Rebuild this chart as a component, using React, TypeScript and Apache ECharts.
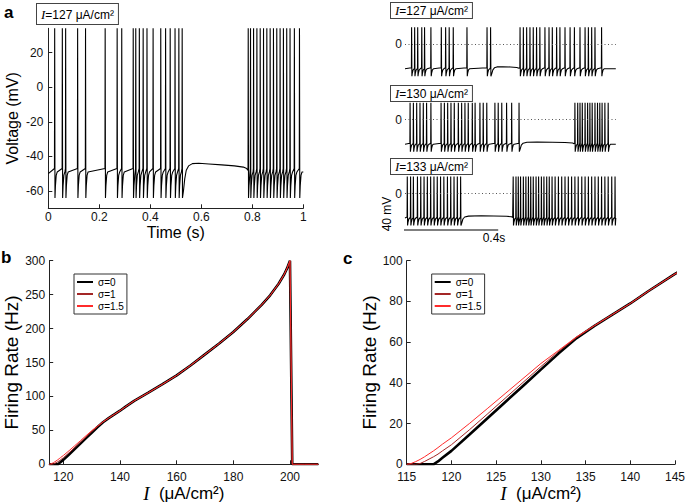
import React, { useEffect, useRef } from 'react';
import * as echarts from 'echarts';

const SANS = '"Liberation Sans", Arial, Helvetica, sans-serif';
const SERIF = '"Liberation Serif", "Times New Roman", serif';

// ---------- panel a (left): I = 127, voltage trace over 1 s ----------
const SPIKES_A = [
  0.025, 0.055, 0.068, 0.115, 0.146, 0.223, 0.27, 0.288, 0.333, 0.343, 0.357, 0.372, 0.387,
  0.411, 0.441, 0.46, 0.478, 0.497, 0.512, 0.525,
  0.784, 0.793, 0.805, 0.818, 0.831, 0.844, 0.857, 0.87, 0.883, 0.896, 0.909, 0.922, 0.935,
  0.948, 0.965, 0.985,
];
const PLATEAU_A = [
  [0.5275, -64], [0.53, -60], [0.535, -53], [0.541, -48], [0.55, -45.5], [0.565, -44.2],
  [0.59, -44], [0.63, -44.4], [0.68, -44.9], [0.73, -45.5], [0.765, -46.2], [0.778, -47], [0.782, -48],
];
const T_END_A = 1.0;
const V_START_A = -50;

// ---------- panel a (right): three traces ----------
const SPIKES_R1 = [
  0.026, 0.038, 0.05, 0.066, 0.077, 0.102, 0.143, 0.16, 0.174, 0.19, 0.244, 0.323, 0.337,
  0.453, 0.466, 0.479, 0.492, 0.505, 0.518, 0.531, 0.551, 0.567, 0.58, 0.597, 0.61, 0.63,
  0.65, 0.667, 0.689, 0.709, 0.722, 0.735, 0.748, 0.774,
];
const PLATEAU_R1 = [
  [0.3395, -64], [0.342, -58], [0.346, -51], [0.352, -47], [0.362, -45.2], [0.385, -44.8],
  [0.415, -45.3], [0.44, -46.3], [0.449, -48],
];
const SPIKES_R2 = [
  0.02, 0.033, 0.046, 0.059, 0.072, 0.085, 0.102, 0.142, 0.155, 0.168, 0.181, 0.194, 0.21,
  0.223, 0.236, 0.249, 0.265, 0.276, 0.295, 0.308, 0.322, 0.354, 0.367, 0.381, 0.4, 0.42, 0.449,
  0.669, 0.68, 0.689, 0.698, 0.709, 0.719, 0.728, 0.737, 0.748, 0.758, 0.767, 0.776, 0.787, 0.8,
];
const PLATEAU_R2 = [
  [0.4515, -64], [0.454, -58], [0.458, -51], [0.465, -47], [0.48, -45.2], [0.52, -44.6],
  [0.58, -45], [0.63, -45.6], [0.66, -46.6], [0.666, -48],
];
const SPIKES_R3 = [
  0.009, 0.022, 0.033, 0.049, 0.062, 0.075, 0.088, 0.101, 0.114, 0.127, 0.14, 0.153, 0.167,
  0.18, 0.193, 0.206, 0.219,
  0.426, 0.437, 0.446, 0.455, 0.466, 0.476, 0.486, 0.495, 0.505, 0.516, 0.526, 0.537, 0.547,
  0.558, 0.568, 0.579, 0.591, 0.604, 0.617, 0.63, 0.643, 0.656, 0.669, 0.682, 0.696, 0.709,
  0.722, 0.735, 0.748, 0.761, 0.774, 0.787, 0.8, 0.814, 0.827,
];
const PLATEAU_R3 = [
  [0.2215, -64], [0.224, -58], [0.228, -51], [0.235, -47], [0.25, -45.2], [0.3, -44.6],
  [0.35, -45], [0.4, -45.6], [0.42, -46.6], [0.424, -48],
];
const T_END_R = 0.83;
const ROW_LABELS = ['127', '130', '133'];

// spike waveform: [time offset (s), voltage (mV)]
const SPIKE_SHAPE = [[-0.0008, -47], [0, 34], [0.0012, -64], [0.003, -57], [0.006, -51], [0.01, -49]];
const BASELINE = -49;

// scale bar of the right traces: 0.4 s, 40 mV
const SCALE_BAR = { t0: -0.033, v0: -73, dt: 0.4, dv: 40 };

// ---------- panels b / c: firing rate vs current ----------
const I_VALUES = [
  115, 115.5, 116, 116.5, 117, 118, 118.5, 119, 120, 122, 124, 126, 128, 130, 132, 134, 136, 138,
  140, 142, 145, 150, 155, 160, 165, 170, 175, 180, 185, 190, 193, 196, 198, 199, 200, 200.8, 205, 210,
];
const RATE_S0 = [
  0, 0, 0, 0, 0, 0, 1.4, 3.2, 6.6, 14.5, 22.5, 30.5, 38.5, 46.5, 54.5, 62, 68, 73.5,
  79, 85, 93.5, 105.5, 118, 131, 146, 162, 178, 195, 214, 235, 249, 266, 280, 289, 300, 0, 0, 0,
];
const RATE_S1 = [
  0, 0, 0, 0.4, 1.4, 3.7, 5, 6.6, 9.6, 16.9, 24.6, 32.4, 40.2, 48, 55.5, 62.3, 68, 73.5,
  79, 85, 93.5, 105.5, 118, 131, 146, 162, 178, 195, 214, 235, 249, 266, 280, 289, 300, 0, 0, 0,
];
const RATE_S15 = [
  0, 0.4, 1.3, 2.4, 3.7, 6.6, 8.2, 9.9, 13, 20, 27.3, 34.7, 42.1, 49.5, 56, 62.6, 68.2, 73.6,
  79, 85, 93.5, 105.5, 118, 131, 146, 162, 178, 195, 214, 235, 249, 266, 280, 289, 300, 0, 0, 0,
];
const SIGMA_NAMES = ['σ=0', 'σ=1', 'σ=1.5'];
const SIGMA_COLORS = ['#000000', '#a32626', '#ff2b2b'];
const SIGMA_WIDTHS = [2.6, 1, 1];

const VOLT_TICKS = [-60, -40, -20, 0, 20];
const I_TICKS_B = [120, 140, 160, 180, 200];

function buildTrace(spikes: number[], plateau: number[][], tEnd: number, v0: number) {
  const events = spikes.map((t) => ({ t, p: false }));
  events.push({ t: plateau[0][0], p: true });
  events.sort((a, b) => a.t - b.t);
  const pts: number[][] = [[0, v0]];
  events.forEach((ev, i) => {
    const next = i + 1 < events.length ? events[i + 1] : null;
    const limit = next ? (next.p ? next.t : next.t + SPIKE_SHAPE[0][0]) : tEnd;
    if (ev.p) {
      plateau.forEach((p) => pts.push(p));
      return;
    }
    SPIKE_SHAPE.forEach(([dt, v]) => {
      const t = ev.t + dt;
      if (t < limit - 1e-6 && t > pts[pts.length - 1][0]) pts.push([t, v]);
    });
  });
  pts.push([tEnd, BASELINE]);
  return pts;
}

const AX = { color: '#222', width: 1 };
const LBL = { fontSize: 12, lineHeight: 12, color: '#111', fontFamily: SANS };

export default function App() {
  const ref = useRef<HTMLDivElement>(null);
  useEffect(() => {
    const chart = echarts.init(ref.current!, undefined, { renderer: 'svg', width: 685, height: 503 });

    const rowTops = [24.3, 99.7, 173.5];
    const rowTraces = [
      buildTrace(SPIKES_R1, PLATEAU_R1, T_END_R, BASELINE),
      buildTrace(SPIKES_R2, PLATEAU_R2, T_END_R, BASELINE),
      buildTrace(SPIKES_R3, PLATEAU_R3, T_END_R, BASELINE),
    ];
    const pairs = (ys: number[]) => I_VALUES.map((x, i) => [x, ys[i]]);
    const rates = [RATE_S0, RATE_S1, RATE_S15];

    const grids: any[] = [
      { left: 48.3, top: 28.3, width: 255, height: 180 },
      ...rowTops.map((t) => ({ left: 405, top: t, width: 210.8, height: 60 })),
      { left: 49.2, top: 260.7, width: 269.1, height: 203.6 },
      { left: 406.7, top: 260.7, width: 268.3, height: 203.6 },
    ].map((g) => ({ ...g, containLabel: false, outerBoundsMode: 'none' }));

    const iName = '{i|I}  (μA/cm²)';
    const iNameStyle = {
      fontSize: 17,
      lineHeight: 18,
      color: '#000',
      fontFamily: SANS,
      rich: { i: { fontFamily: SERIF, fontStyle: 'italic', fontSize: 19, lineHeight: 18, color: '#000' } },
    };
    const rateNameStyle = { fontSize: 19, color: '#000', fontFamily: SANS };

    const xAxes: any[] = [
      {
        gridIndex: 0, type: 'value', min: 0, max: 1, interval: 0.2,
        axisLine: { show: true, onZero: false, lineStyle: AX },
        axisTick: { show: true, inside: true, length: 4, lineStyle: AX },
        axisLabel: { ...LBL, margin: 3 },
        splitLine: { show: false },
        name: 'Time (s)', nameLocation: 'middle', nameGap: 14,
        nameTextStyle: { fontSize: 16, color: '#000', fontFamily: SANS },
      },
      ...[1, 2, 3].map((g) => ({ gridIndex: g, type: 'value', min: 0, max: T_END_R, show: false })),
      {
        gridIndex: 4, type: 'value', min: 115, max: 210,
        axisLine: { show: true, onZero: false, lineStyle: AX },
        axisTick: { show: true, inside: true, length: 4, lineStyle: AX, customValues: I_TICKS_B },
        axisLabel: { ...LBL, margin: 6.5, customValues: I_TICKS_B },
        splitLine: { show: false },
        name: iName, nameLocation: 'middle', nameGap: 18, nameTextStyle: iNameStyle,
      },
      {
        gridIndex: 5, type: 'value', min: 115, max: 145, interval: 5,
        axisLine: { show: true, onZero: false, lineStyle: AX },
        axisTick: { show: true, inside: true, length: 4, lineStyle: AX },
        axisLabel: { ...LBL, margin: 6.5 },
        splitLine: { show: false },
        name: iName, nameLocation: 'middle', nameGap: 18, nameTextStyle: iNameStyle,
      },
    ];
    const yAxes: any[] = [
      {
        gridIndex: 0, type: 'value', min: -70, max: 34,
        axisLine: { show: true, onZero: false, lineStyle: AX },
        axisTick: { show: true, inside: true, length: 4, lineStyle: AX, customValues: VOLT_TICKS },
        axisLabel: { ...LBL, margin: 5, customValues: VOLT_TICKS },
        splitLine: { show: false },
        name: 'Voltage (mV)', nameLocation: 'middle', nameRotate: 90, nameGap: 28,
        nameTextStyle: { fontSize: 16, color: '#000', fontFamily: SANS },
      },
      ...[1, 2, 3].map((g) => ({
        gridIndex: g, type: 'value', min: -80, max: 40,
        axisLine: { show: false }, axisTick: { show: false }, splitLine: { show: false },
        axisLabel: { ...LBL, margin: 3, customValues: [0] },
      })),
      {
        gridIndex: 4, type: 'value', min: 0, max: 300, interval: 50,
        axisLine: { show: true, onZero: false, lineStyle: AX },
        axisTick: { show: true, inside: true, length: 4, lineStyle: AX },
        axisLabel: { ...LBL, margin: 4 },
        splitLine: { show: false },
        name: 'Firing Rate (Hz)', nameLocation: 'middle', nameRotate: 90, nameGap: 27,
        nameTextStyle: rateNameStyle,
      },
      {
        gridIndex: 5, type: 'value', min: 0, max: 100, interval: 20,
        axisLine: { show: true, onZero: false, lineStyle: AX },
        axisTick: { show: true, inside: true, length: 4, lineStyle: AX },
        axisLabel: { ...LBL, margin: 4 },
        splitLine: { show: false },
        name: 'Firing Rate (Hz)', nameLocation: 'middle', nameRotate: 90, nameGap: 23,
        nameTextStyle: rateNameStyle,
      },
    ];

    const traceStyle = { color: '#000', width: 1.1 };
    const series: any[] = [
      {
        type: 'line', xAxisIndex: 0, yAxisIndex: 0, silent: true, symbol: 'none',
        data: buildTrace(SPIKES_A, PLATEAU_A, T_END_A, V_START_A), lineStyle: traceStyle,
      },
      ...rowTraces.map((d, k) => ({
        type: 'line', xAxisIndex: k + 1, yAxisIndex: k + 1, silent: true, symbol: 'none',
        data: d, lineStyle: traceStyle,
        markLine: {
          silent: true, symbol: 'none', label: { show: false },
          lineStyle: { type: [1, 2.5], color: '#555', width: 1 },
          data: [{ yAxis: 0 }],
        },
      })),
      {
        type: 'line', xAxisIndex: 3, yAxisIndex: 3, silent: true, symbol: 'none', clip: false,
        data: [
          [SCALE_BAR.t0, SCALE_BAR.v0 + SCALE_BAR.dv],
          [SCALE_BAR.t0, SCALE_BAR.v0],
          [SCALE_BAR.t0 + SCALE_BAR.dt, SCALE_BAR.v0],
        ],
        lineStyle: { color: '#000', width: 1.2 },
      },
    ];
    [4, 5].forEach((ax) => {
      SIGMA_NAMES.forEach((name, k) => {
        series.push({
          name, type: 'line', xAxisIndex: ax, yAxisIndex: ax, silent: true, symbol: 'none',
          data: pairs(rates[k]), z: 2 + k,
          lineStyle: { color: SIGMA_COLORS[k], width: SIGMA_WIDTHS[k] },
          itemStyle: { color: SIGMA_COLORS[k] },
        });
      });
    });

    const legendBase = {
      data: SIGMA_NAMES, orient: 'vertical', top: 274, selectedMode: false,
      borderColor: '#333', borderWidth: 1, backgroundColor: '#fff',
      padding: [3, 3, 3, 2], itemGap: 2, itemWidth: 16, itemHeight: 10,
      itemStyle: { opacity: 0 },
      textStyle: { fontSize: 10, color: '#000', fontFamily: SANS },
    };

    const boxText = (label: string, x: number, y: number, pad: number[], lh: number) => ({
      type: 'text', x, y, z: 100,
      style: {
        text: `{i|I}=${label} μA/cm²`, fontSize: 12, fontFamily: SANS, fill: '#000',
        lineHeight: lh, backgroundColor: '#fff', borderColor: '#444', borderWidth: 1, padding: pad,
        rich: { i: { fontFamily: SERIF, fontStyle: 'italic', fontSize: 13, lineHeight: lh } },
      },
    });
    const panelLabel = (t: string, x: number, y: number) => ({
      type: 'text', x, y,
      style: { text: t, fontSize: 17, fontWeight: 'bold', fontFamily: SANS, fill: '#000', verticalAlign: 'middle' },
    });

    chart.setOption({
      animation: false,
      backgroundColor: '#fff',
      textStyle: { fontFamily: SANS },
      grid: grids,
      xAxis: xAxes,
      yAxis: yAxes,
      legend: [
        { ...legendBase, left: 74 },
        { ...legendBase, left: 431.7 },
      ],
      series,
      graphic: [
        panelLabel('a', 4, 12),
        panelLabel('b', 1, 257),
        panelLabel('c', 343, 258),
        boxText(ROW_LABELS[0], 37, 4, [4, 4, 3, 4], 13),
        boxText(ROW_LABELS[0], 391, 3, [1, 4, 1, 4], 13),
        boxText(ROW_LABELS[1], 391, 86, [1, 4, 1, 4], 13),
        boxText(ROW_LABELS[2], 391, 159, [1, 4, 1, 4], 13),
        {
          type: 'text', x: 387, y: 214, rotation: Math.PI / 2,
          style: { text: '40 mV', fontSize: 12, fontFamily: SANS, fill: '#000', align: 'center', verticalAlign: 'middle' },
        },
        {
          type: 'text', x: 494, y: 238,
          style: { text: '0.4s', fontSize: 12, fontFamily: SANS, fill: '#000', align: 'center', verticalAlign: 'middle' },
        },
      ],
    });
    return () => chart.dispose();
  }, []);
  return (
    <div
      ref={ref}
      style={{ position: 'fixed', left: 0, top: 0, width: 685, height: 503, background: '#fff' }}
    />
  );
}
